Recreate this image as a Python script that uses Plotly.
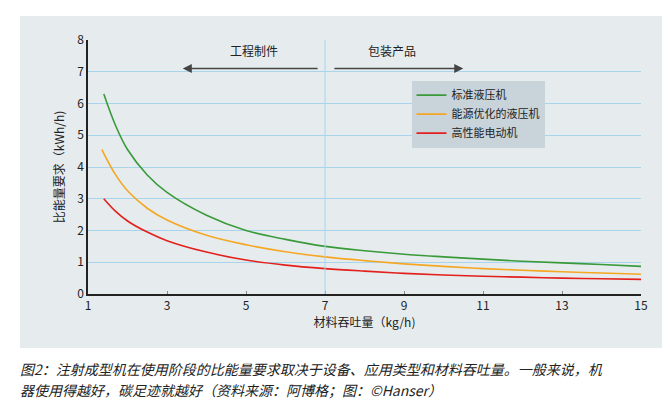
import plotly.graph_objects as go

FONT = "Noto Sans CJK SC"

x_green = [1.4, 1.7, 2.0, 2.5, 3, 4, 5, 6, 7, 8, 9, 10, 11, 12, 13, 14, 15]
y_green = [6.3, 5.3, 4.55, 3.75, 3.2, 2.48, 2.0, 1.72, 1.5, 1.36, 1.25, 1.17, 1.1, 1.03, 0.98, 0.93, 0.87]
x_orange = [1.35, 1.7, 2.0, 2.5, 3, 4, 5, 6, 7, 8, 9, 10, 11, 12, 13, 14, 15]
y_orange = [4.55, 3.75, 3.25, 2.7, 2.33, 1.85, 1.55, 1.33, 1.17, 1.05, 0.95, 0.87, 0.8, 0.75, 0.7, 0.66, 0.62]
x_red = [1.4, 1.7, 2.0, 2.5, 3, 4, 5, 6, 7, 8, 9, 10, 11, 12, 13, 14, 15]
y_red = [3.0, 2.6, 2.3, 1.95, 1.68, 1.32, 1.07, 0.91, 0.8, 0.72, 0.65, 0.6, 0.56, 0.53, 0.5, 0.48, 0.46]

names = ["标准液压机", "能源优化的液压机", "高性能电动机"]
colors = ["#3a9a3a", "#f5a623", "#e3201b"]

fig = go.Figure()
for xs, ys, n, c in zip([x_green, x_orange, x_red], [y_green, y_orange, y_red], names, colors):
    fig.add_trace(go.Scatter(x=xs, y=ys, mode="lines", name=n,
                             line=dict(color=c, width=1.6, shape="spline", smoothing=1.0)))

W, H = 670, 401
l, r, t, b = 80, 37, 32, 115
pw, ph = W - l - r, H - t - b

def px(xp):
    return (xp - l) / pw

def py(yp):
    return (H - b - yp) / ph

fig.add_shape(type="rect", xref="paper", yref="paper", x0=px(12), x1=px(660), y0=py(8), y1=py(340),
              fillcolor="#e6ecee", line=dict(width=0), layer="below")
fig.add_shape(type="line", x0=7, x1=7, y0=0, y1=8, line=dict(color="#a8d4ec", width=1))

fig.add_annotation(x=3.4, y=7.1, ax=6.85, ay=7.1, xref="x", yref="y", axref="x", ayref="y",
                   text="", showarrow=True, arrowhead=2, arrowsize=1.2, arrowwidth=1.5, arrowcolor="#444")
fig.add_annotation(x=10.5, y=7.1, ax=7.2, ay=7.1, xref="x", yref="y", axref="x", ayref="y",
                   text="", showarrow=True, arrowhead=2, arrowsize=1.2, arrowwidth=1.5, arrowcolor="#444")
fig.add_annotation(x=5.2, y=7.35, text="工程制件", showarrow=False, yanchor="bottom",
                   font=dict(size=12, color="#222"))
fig.add_annotation(x=8.7, y=7.35, text="包装产品", showarrow=False, yanchor="bottom",
                   font=dict(size=12, color="#222"))

captions = ["<i>图2：注射成型机在使用阶段的比能量要求取决于设备、应用类型和材料吞吐量。一般来说，机</i>",
            "<i>器使用得越好，碳足迹就越好（资料来源：阿博格；图：©Hanser）</i>"]
for i, cap in enumerate(captions):
    fig.add_annotation(xref="paper", yref="paper", x=px(10), y=py(349 + i * 21), xanchor="left",
                       yanchor="top", align="left", showarrow=False, text=cap,
                       font=dict(size=14, color="#222"))

fig.update_layout(
    width=W, height=H,
    margin=dict(l=l, r=r, t=t, b=b, autoexpand=False),
    paper_bgcolor="white",
    plot_bgcolor="#dfeef7",
    font=dict(family=FONT, size=12, color="#222"),
    showlegend=True,
    legend=dict(x=0.585, y=0.84, xanchor="left", yanchor="top", bgcolor="#c8d3da",
                font=dict(size=11), tracegroupgap=0, itemwidth=30),
    xaxis=dict(range=[1, 15], tickvals=[1, 3, 5, 7, 9, 11, 13, 15], showgrid=False, zeroline=False,
               automargin=False,
               showline=True, linecolor="#222", linewidth=1.5, ticks="inside", ticklen=3, tickcolor="#888",
               title=dict(text="材料吞吐量（kg/h)", font=dict(size=12), standoff=6)),
    yaxis=dict(range=[0, 8], dtick=1, showgrid=True, gridcolor="#a8d4ec", zeroline=False,
               automargin=False,
               showline=True, linecolor="#222", linewidth=1.5, ticks="",
               title=dict(text="比能量要求（kWh/h)", font=dict(size=12), standoff=10)),
)

fig.write_html("out.html")
